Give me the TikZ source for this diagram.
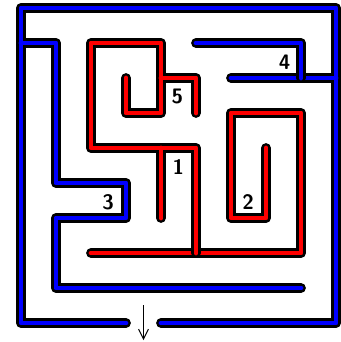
\documentclass[tikz,border=0pt]{standalone}
\usetikzlibrary{arrows.meta}
\tikzset{
  wallbk/.style={draw=black, line width=0.28cm, line cap=round, line join=round},
  bluewall/.style={draw=blue, line width=0.14cm, line cap=round, line join=round},
  redwall/.style={draw=red, line width=0.14cm, line cap=round, line join=round},
  lbl/.style={font=\sffamily\bfseries\fontsize{17}{17}\selectfont, inner sep=0pt}
}
\begin{document}
\begin{tikzpicture}[y=-1cm]
\useasboundingbox (-0.6,-0.2286) rectangle (9.143,9.543);
% blue group A
\def\pathA{(3,9) -- (0,9) -- (0,0) -- (9,0) -- (9,9) -- (4,9)
  (0,1) -- (1,1) -- (1,5) -- (3,5) -- (3,6) -- (1,6) -- (1,8) -- (8,8)
  (6,2) -- (9,2)}
\draw[wallbk] \pathA;
\draw[bluewall] \pathA;
% blue group B
\def\pathB{(5,1) -- (8,1) -- (8,2)}
\draw[wallbk] \pathB;
\draw[bluewall] \pathB;
% red group 1
\def\pathC{(2,7) -- (8,7) -- (8,3) -- (6,3) -- (6,6) -- (7,6) -- (7,4)}
\draw[wallbk] \pathC;
\draw[redwall] \pathC;
% red group 2
\def\pathD{(3,2) -- (3,3) -- (4,3) -- (4,1) -- (2,1) -- (2,4) -- (5,4) -- (5,7)
  (4,2) -- (5,2) -- (5,3)
  (4,4) -- (4,6)}
\draw[wallbk] \pathD;
\draw[redwall] \pathD;
% labels
\node[lbl] (l5) at (4.47,2.54) {5};
\node[lbl] (l1) at (4.5,4.54) {1};
\node[lbl] (l3) at (2.49,5.54) {3};
\node[lbl] (l2) at (6.49,5.54) {2};
\node[lbl] (l4) at (7.53,1.54) {4};
% exit arrow
\coordinate (as) at (3.5,8.49);
\coordinate (ae) at (3.5,9.49);
\draw[line width=0.8pt, -{Straight Barb[length=8pt,width=8pt]}] (as) -- (ae);
\end{tikzpicture}
\end{document}
